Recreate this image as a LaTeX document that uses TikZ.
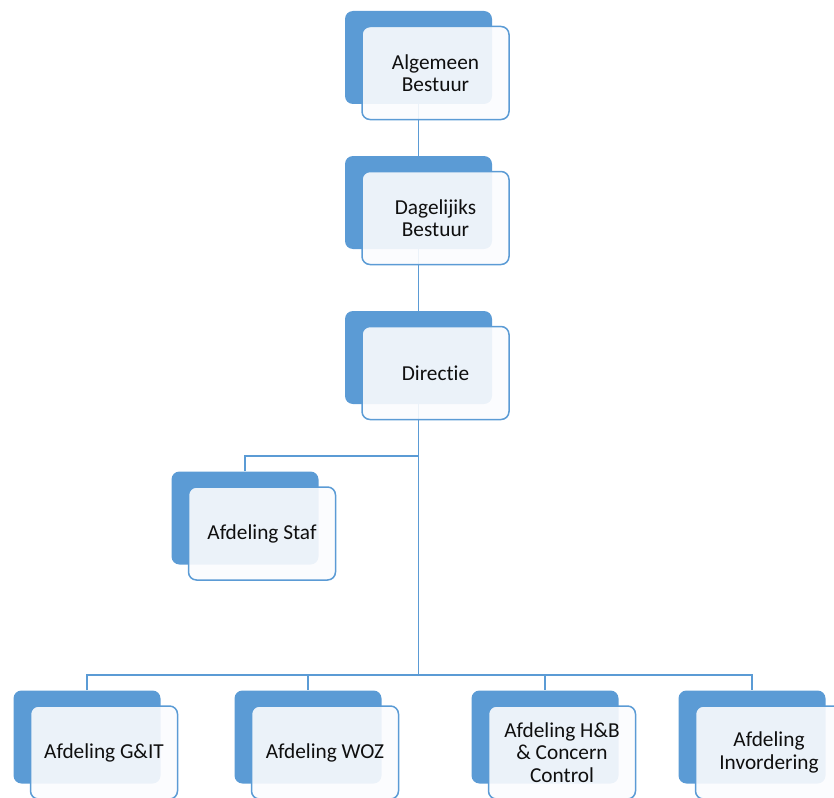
\documentclass[tikz,border=0pt]{standalone}
\usepackage{fontspec}
\setmainfont{Carlito}[Ligatures=NoCommon]
\usetikzlibrary{positioning}
\definecolor{smartblue}{RGB}{91,155,213}
\definecolor{frontfill}{RGB}{251,252,254}
\definecolor{boxtext}{RGB}{15,15,15}
\tikzset{
  backbox/.style={rounded corners=8pt,fill=smartblue,inner sep=0pt,
    minimum width=147pt,minimum height=93pt},
  frontbox/.style={rounded corners=8pt,draw=smartblue,line width=1.5pt,
    fill=frontfill,fill opacity=0.9,text opacity=1,text=boxtext,inner sep=2pt,
    minimum width=147pt,minimum height=93pt,align=center,
    font=\fontsize{21.3}{22.5}\selectfont,xshift=17pt,yshift=-15.5pt},
  link/.style={draw=smartblue,line width=1.6pt}
}

\begin{document}
\begin{tikzpicture}[x=1pt,y=-1pt]
  \useasboundingbox (0,0) rectangle (834,797);
  \clip (0,0) rectangle (834,797);

  % achterste blokken
  \node[backbox] (ab-b) at (418.5,57.5) {};
  \node[backbox] (db-b) at (418.5,202.5) {};
  \node[backbox] (dir-b) at (418.5,357.5) {};
  \node[backbox] (staf-b) at (245,518) {};
  \node[backbox] (git-b) at (87,737) {};
  \node[backbox] (woz-b) at (308,737) {};
  \node[backbox] (hb-b) at (545,737) {};
  \node[backbox] (inv-b) at (752,737) {};

  % verbindingen
  \coordinate (stafbus) at (0,456);
  \coordinate (bus) at (0,675);
  \draw[link] (ab-b.south) -- (db-b.north);
  \draw[link] (db-b.south) -- (dir-b.north);
  \draw[link] (dir-b.south) -- (dir-b.south |- bus);
  \draw[link] (staf-b.north) |- (dir-b.south |- stafbus);
  \draw[link] (git-b.north) -- (git-b.north |- bus) -- (inv-b.north |- bus) -- (inv-b.north);
  \draw[link] (woz-b.north |- bus) -- (woz-b.north);
  \draw[link] (hb-b.north |- bus) -- (hb-b.north);

  % voorste blokken
  \node[frontbox] (ab) at (ab-b) {Algemeen\\Bestuur};
  \node[frontbox] (db) at (db-b) {Dagelijiks\\Bestuur};
  \node[frontbox] (dir) at (dir-b) {Directie};
  \node[frontbox] (staf) at (staf-b) {Afdeling Staf};
  \node[frontbox] (git) at (git-b) {Afdeling G\&IT};
  \node[frontbox] (woz) at (woz-b) {Afdeling WOZ};
  \node[frontbox] (hb) at (hb-b) {Afdeling H\&B\\\& Concern\\Control};
  \node[frontbox] (inv) at (inv-b) {Afdeling\\Invordering};
\end{tikzpicture}
\end{document}
